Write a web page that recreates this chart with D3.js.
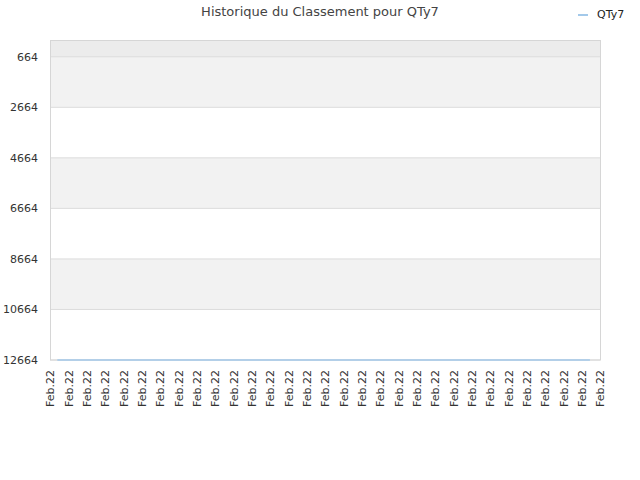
<!DOCTYPE html>
<html>
<head>
<meta charset="utf-8">
<script src="https://cdn.jsdelivr.net/npm/d3@7"></script>
<style>
  body { margin: 0; background: #fff; }
  text { font-family: "DejaVu Sans", sans-serif; }
</style>
</head>
<body>
<script>
// data
var xLabels = ["Feb.22","Feb.22","Feb.22","Feb.22","Feb.22","Feb.22","Feb.22","Feb.22","Feb.22","Feb.22",
               "Feb.22","Feb.22","Feb.22","Feb.22","Feb.22","Feb.22","Feb.22","Feb.22","Feb.22","Feb.22",
               "Feb.22","Feb.22","Feb.22","Feb.22","Feb.22","Feb.22","Feb.22","Feb.22","Feb.22","Feb.22","Feb.22"]
var yTicks  = [664, 2664, 4664, 6664, 8664, 10664, 12664]
var seriesName = "QTy7"
var seriesX    = [0.4, 29.45]
var seriesRank = [12664, 12664]

// layout
var W = 640, H = 480
  , m = {top: 40, right: 40, bottom: 120, left: 50}
  , iw = W - m.left - m.right
  , ih = H - m.top - m.bottom

var svg = d3.select("body").append("svg")
            .attr("width", W)
            .attr("height", H)

var x = d3.scaleLinear().domain([0, xLabels.length - 1]).range([m.left, m.left + iw])
  , y = d3.scaleLinear().domain([0, 12664]).range([m.top, m.top + ih])

// background bands
var bounds = [0].concat(yTicks)
for (var i = 0; i < bounds.length - 1; i++) {
	var fill = i == 0 ? "#ececec" : (i % 2 == 1 ? "#f2f2f2" : "#ffffff")
	svg.append("rect")
	   .attr("x", m.left).attr("width", iw)
	   .attr("y", y(bounds[i])).attr("height", y(bounds[i+1]) - y(bounds[i]))
	   .attr("fill", fill)
}

// grid lines
svg.selectAll(".grid").data(yTicks).enter().append("line")
   .attr("x1", m.left).attr("x2", m.left + iw)
   .attr("y1", function(d){ return y(d) }).attr("y2", function(d){ return y(d) })
   .attr("stroke", "#dcdcdc").attr("stroke-width", 1)

// frame
svg.append("rect")
   .attr("x", m.left + 0.5).attr("y", m.top + 0.5)
   .attr("width", iw).attr("height", ih - 0.5)
   .attr("fill", "none").attr("stroke", "#d6d6d6")

// y axis labels
var yAxis = d3.axisLeft(y).tickValues(yTicks).tickSize(0).tickPadding(12).tickFormat(d3.format("d"))
var gy = svg.append("g").attr("transform", "translate(" + m.left + ",0)").call(yAxis)
gy.select(".domain").remove()
gy.selectAll("text").attr("font-size", 11).attr("fill", "#333").style("font-family", "DejaVu Sans")

// x axis labels
var xAxis = d3.axisBottom(x).tickValues(d3.range(xLabels.length))
              .tickFormat(function(d){ return xLabels[d] }).tickSize(0)
var gx = svg.append("g").attr("transform", "translate(0," + (m.top + ih) + ")").call(xAxis)
gx.select(".domain").remove()
gx.selectAll("text")
  .attr("font-size", 11).attr("fill", "#333").style("font-family", "DejaVu Sans")
  .attr("text-anchor", "end")
  .attr("transform", "rotate(-90)")
  .attr("x", -10).attr("y", 0).attr("dy", "0.35em")

// series line
var pts = seriesX.map(function(d, i){ return [d, seriesRank[i]] })
svg.append("path")
   .datum(pts)
   .attr("d", d3.line().x(function(d){ return x(d[0]) }).y(function(d){ return y(d[1]) }))
   .attr("fill", "none").attr("stroke", "#a3c9ea").attr("stroke-width", 1.5)

// title
svg.append("text")
   .attr("x", W / 2).attr("y", 16)
   .attr("text-anchor", "middle")
   .attr("font-size", 13).attr("fill", "#444")
   .text("Historique du Classement pour " + seriesName)

// legend
svg.append("line")
   .attr("x1", 578).attr("x2", 588).attr("y1", 15).attr("y2", 15)
   .attr("stroke", "#a3c9ea").attr("stroke-width", 2)
svg.append("text")
   .attr("x", 597).attr("y", 18)
   .attr("font-size", 11).attr("fill", "#222")
   .text(seriesName)
</script>
</body>
</html>
